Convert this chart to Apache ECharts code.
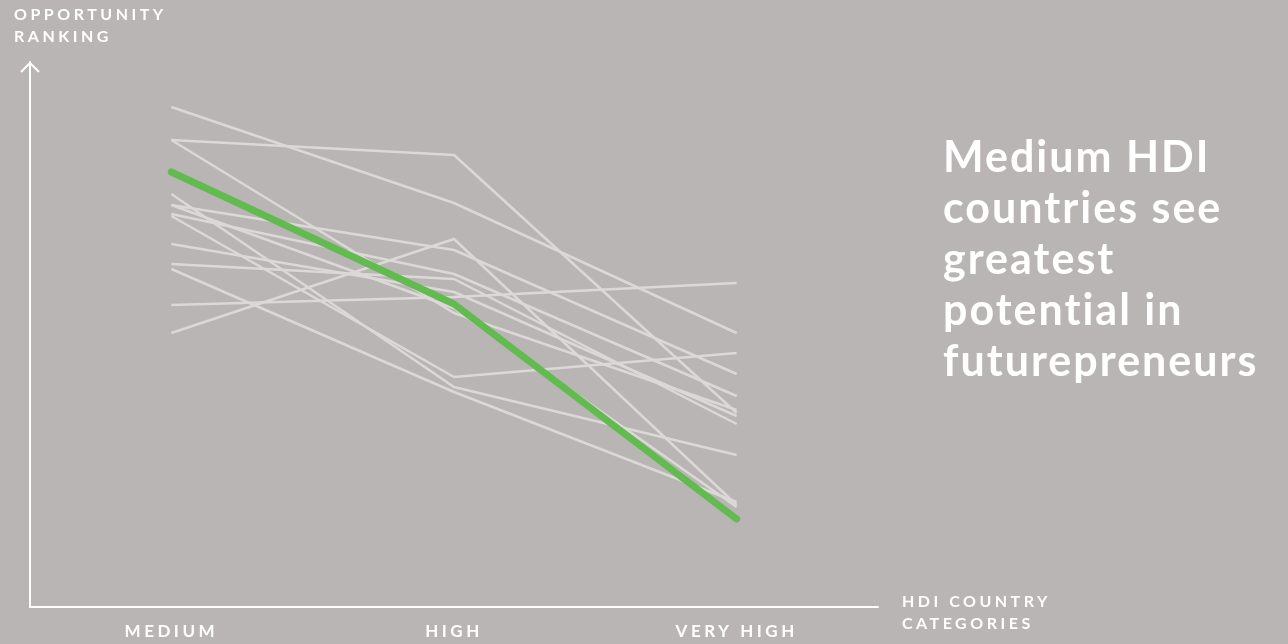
<!DOCTYPE html>
<html>
<head>
<meta charset="utf-8">
<script src="https://cdn.jsdelivr.net/npm/echarts@6/dist/echarts.min.js"></script>
<style>
html, body { margin: 0; padding: 0; background: #b9b5b5; }
#chart { width: 1288px; height: 644px; }
</style>
</head>
<body>
<div id="chart"></div>
<script>
var categories = ['MEDIUM', 'HIGH', 'VERY HIGH'];

// opportunity ranking per country (higher = better), medium / high / very high
var country01 = [500, 404, 274];
var country02 = [467, 452, 194];
var country03 = [467, 294, 197];
var country04 = [413, 220, 152];
var country05 = [402, 357, 233];
var country06 = [402, 299, 100];
var country07 = [393, 333, 211];
var country08 = [391, 230, 254];
var country09 = [363, 315, 191];
var country10 = [343, 328, 183];
var country11 = [338, 215, 105];
var country12 = [302, 310, 324];
var country13 = [274, 368, 102];
var futurepreneurs = [435, 303, 88];

var greyLines = [country01, country02, country03, country04, country05, country06, country07,
	country08, country09, country10, country11, country12, country13];

// echarts has no letter-spacing option, so space the text on the canvas itself
var fillText = CanvasRenderingContext2D.prototype.fillText;
CanvasRenderingContext2D.prototype.fillText = function(text, x, y, maxWidth) {
	var size = parseInt((this.font.match(/(\d+)px/) || [0, 12])[1]);
	this.letterSpacing = size > 30 ? '2px' : '3.5px';
	if (maxWidth === undefined) {
		return fillText.call(this, text, x, y);
	}
	return fillText.call(this, text, x, y, maxWidth);
};

var labelFont = 'Lato';
var series = [];
for (var i = 0; i < greyLines.length; i++) {
	series.push({
		type: 'line',
		data: greyLines[i],
		symbol: 'none',
		silent: true,
		z: 2,
		lineStyle: { color: '#dcd8d8', width: 2.5 }
	});
}
series.push({
	type: 'line',
	data: futurepreneurs,
	symbol: 'none',
	silent: true,
	z: 5,
	lineStyle: { color: '#62bb4f', width: 7, cap: 'round', join: 'round' }
});

var chart = echarts.init(document.getElementById('chart'));
chart.setOption({
	backgroundColor: '#b9b5b5',
	animation: false,
	title: [{
		text: 'OPPORTUNITY\nRANKING',
		left: 14,
		top: 4,
		padding: 0,
		textStyle: { color: '#fff', fontFamily: labelFont, fontWeight: 'bold', fontSize: 16, lineHeight: 22 }
	}, {
		text: 'HDI COUNTRY\nCATEGORIES',
		left: 902,
		top: 591,
		padding: 0,
		textStyle: { color: '#fff', fontFamily: labelFont, fontWeight: 'bold', fontSize: 16, lineHeight: 22 }
	}, {
		text: 'Medium HDI\ncountries see\ngreatest\npotential in\nfuturepreneurs',
		left: 943,
		top: 133,
		padding: 0,
		textStyle: { color: '#fff', fontFamily: labelFont, fontWeight: 'bold', fontSize: 43, lineHeight: 51 }
	}],
	grid: { left: 30, top: 62, width: 848, height: 545 },
	xAxis: [{
		type: 'category',
		data: categories,
		boundaryGap: true,
		axisLine: { lineStyle: { color: '#fff', width: 2 } },
		axisTick: { lineStyle: { color: '#fff', width: 1.5 }, length: 5 },
		axisLabel: { color: '#fff', fontFamily: labelFont, fontWeight: 'bold', fontSize: 17, margin: 16 },
		splitLine: { show: false }
	}, {
		type: 'category',
		data: categories,
		position: 'bottom',
		boundaryGap: true,
		axisLine: { show: false },
		axisTick: { inside: true, lineStyle: { color: '#fff', width: 1.5 }, length: 5 },
		axisLabel: { show: false }
	}],
	yAxis: {
		type: 'value',
		min: 0,
		max: 545,
		axisLine: { show: true, lineStyle: { color: '#fff', width: 2 } },
		axisTick: { show: false },
		axisLabel: { show: false },
		splitLine: { show: false }
	},
	graphic: [{
		type: 'polyline',
		shape: { points: [[21, 72], [30, 63], [39, 72]] },
		style: { stroke: '#fff', lineWidth: 2, fill: null }
	}],
	series: series
});
</script>
</body>
</html>
